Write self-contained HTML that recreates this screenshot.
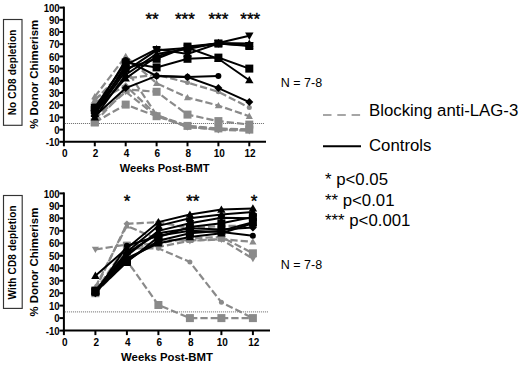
<!DOCTYPE html>
<html><head><meta charset="utf-8"><style>
html,body{margin:0;padding:0;background:#fff;}
body{width:520px;height:365px;overflow:hidden;}
svg{display:block;}
text{font-family:"Liberation Sans", sans-serif;fill:#000;}
.yt{font-size:9.6px;font-weight:bold;}
.xt{font-size:10px;font-weight:bold;}
.at{font-size:11.1px;font-weight:bold;}
.yl{font-size:11.4px;font-weight:bold;}
.bx{font-size:10px;font-weight:bold;letter-spacing:0.15px;}
.st{font-size:17px;font-weight:normal;stroke:#000;stroke-width:0.4px;}
.n{font-size:12.5px;}
.lg{font-size:16.8px;}
</style></head><body>
<svg width="520" height="365" viewBox="0 0 520 365">
<line x1="63.9" y1="6.6" x2="63.9" y2="142.8" stroke="#000" stroke-width="2"/>
<line x1="59.4" y1="141.8" x2="63.9" y2="141.8" stroke="#000" stroke-width="2"/>
<text transform="translate(59.7 141.8) scale(1 1.2)" x="0" y="3.45" text-anchor="end" class="yt">-10</text>
<line x1="59.4" y1="129.6" x2="63.9" y2="129.6" stroke="#000" stroke-width="2"/>
<text transform="translate(59.7 129.6) scale(1 1.2)" x="0" y="3.45" text-anchor="end" class="yt">0</text>
<line x1="59.4" y1="117.4" x2="63.9" y2="117.4" stroke="#000" stroke-width="2"/>
<text transform="translate(59.7 117.4) scale(1 1.2)" x="0" y="3.45" text-anchor="end" class="yt">10</text>
<line x1="59.4" y1="105.2" x2="63.9" y2="105.2" stroke="#000" stroke-width="2"/>
<text transform="translate(59.7 105.2) scale(1 1.2)" x="0" y="3.45" text-anchor="end" class="yt">20</text>
<line x1="59.4" y1="93.0" x2="63.9" y2="93.0" stroke="#000" stroke-width="2"/>
<text transform="translate(59.7 93.0) scale(1 1.2)" x="0" y="3.45" text-anchor="end" class="yt">30</text>
<line x1="59.4" y1="80.8" x2="63.9" y2="80.8" stroke="#000" stroke-width="2"/>
<text transform="translate(59.7 80.8) scale(1 1.2)" x="0" y="3.45" text-anchor="end" class="yt">40</text>
<line x1="59.4" y1="68.6" x2="63.9" y2="68.6" stroke="#000" stroke-width="2"/>
<text transform="translate(59.7 68.6) scale(1 1.2)" x="0" y="3.45" text-anchor="end" class="yt">50</text>
<line x1="59.4" y1="56.4" x2="63.9" y2="56.4" stroke="#000" stroke-width="2"/>
<text transform="translate(59.7 56.4) scale(1 1.2)" x="0" y="3.45" text-anchor="end" class="yt">60</text>
<line x1="59.4" y1="44.2" x2="63.9" y2="44.2" stroke="#000" stroke-width="2"/>
<text transform="translate(59.7 44.2) scale(1 1.2)" x="0" y="3.45" text-anchor="end" class="yt">70</text>
<line x1="59.4" y1="32.0" x2="63.9" y2="32.0" stroke="#000" stroke-width="2"/>
<text transform="translate(59.7 32.0) scale(1 1.2)" x="0" y="3.45" text-anchor="end" class="yt">80</text>
<line x1="59.4" y1="19.8" x2="63.9" y2="19.8" stroke="#000" stroke-width="2"/>
<text transform="translate(59.7 19.8) scale(1 1.2)" x="0" y="3.45" text-anchor="end" class="yt">90</text>
<line x1="59.4" y1="7.6" x2="63.9" y2="7.6" stroke="#000" stroke-width="2"/>
<text transform="translate(59.7 7.6) scale(1 1.2)" x="0" y="3.45" text-anchor="end" class="yt">100</text>
<line x1="62.9" y1="141.8" x2="266.0" y2="141.8" stroke="#000" stroke-width="2"/>
<line x1="63.9" y1="141.8" x2="63.9" y2="146.3" stroke="#000" stroke-width="2"/>
<text x="64.7" y="157.2" text-anchor="middle" class="xt">0</text>
<line x1="94.8" y1="141.8" x2="94.8" y2="146.3" stroke="#000" stroke-width="2"/>
<text x="95.6" y="157.2" text-anchor="middle" class="xt">2</text>
<line x1="125.7" y1="141.8" x2="125.7" y2="146.3" stroke="#000" stroke-width="2"/>
<text x="126.5" y="157.2" text-anchor="middle" class="xt">4</text>
<line x1="156.6" y1="141.8" x2="156.6" y2="146.3" stroke="#000" stroke-width="2"/>
<text x="157.4" y="157.2" text-anchor="middle" class="xt">6</text>
<line x1="187.5" y1="141.8" x2="187.5" y2="146.3" stroke="#000" stroke-width="2"/>
<text x="188.3" y="157.2" text-anchor="middle" class="xt">8</text>
<line x1="218.4" y1="141.8" x2="218.4" y2="146.3" stroke="#000" stroke-width="2"/>
<text x="219.2" y="157.2" text-anchor="middle" class="xt">10</text>
<line x1="249.3" y1="141.8" x2="249.3" y2="146.3" stroke="#000" stroke-width="2"/>
<text x="250.1" y="157.2" text-anchor="middle" class="xt">12</text>
<line x1="64.9" y1="123.5" x2="264.0" y2="123.5" stroke="#666" stroke-width="1" stroke-dasharray="1 1"/>
<g><path d="M94.8 100.3L125.7 68.6L156.6 115.0L187.5 125.9L218.4 129.0L249.3 129.6" fill="none" stroke="#8a8a8a" stroke-width="2.2" stroke-dasharray="7.3 3"/>
<path d="M94.8 102.8L125.7 85.7L156.6 115.0L187.5 127.2L218.4 129.6L249.3 129.6" fill="none" stroke="#8a8a8a" stroke-width="2.2" stroke-dasharray="7.3 3"/>
<path d="M94.8 122.3L125.7 104.6L156.6 116.2L187.5 125.9L218.4 128.4L249.3 129.6" fill="none" stroke="#8a8a8a" stroke-width="2.2" stroke-dasharray="7.3 3"/>
<path d="M94.8 99.1L125.7 78.4L156.6 74.7L187.5 82.6L218.4 91.8L249.3 107.6" fill="none" stroke="#8a8a8a" stroke-width="2.2" stroke-dasharray="7.3 3"/>
<path d="M94.8 96.7L125.7 56.4L156.6 83.2L187.5 97.5L218.4 105.6L249.3 116.2" fill="none" stroke="#8a8a8a" stroke-width="2.2" stroke-dasharray="7.3 3"/>
<path d="M94.8 122.3L125.7 89.3L156.6 91.8L187.5 114.6L218.4 121.1L249.3 124.6" fill="none" stroke="#8a8a8a" stroke-width="2.2" stroke-dasharray="7.3 3"/>
<path d="M94.8 118.6L125.7 91.8L156.6 116.2L187.5 126.7L218.4 129.8L249.3 130.8" fill="none" stroke="#8a8a8a" stroke-width="2.2" stroke-dasharray="7.3 3"/>
<path d="M94.8 96.8L98.4 103.0L91.2 103.0Z" fill="#8a8a8a"/>
<path d="M125.7 65.0L129.3 71.3L122.1 71.3Z" fill="#8a8a8a"/>
<path d="M156.6 111.4L160.2 117.6L153.0 117.6Z" fill="#8a8a8a"/>
<path d="M187.5 122.4L191.1 128.6L183.9 128.6Z" fill="#8a8a8a"/>
<path d="M218.4 125.4L222.0 131.7L214.8 131.7Z" fill="#8a8a8a"/>
<path d="M249.3 126.0L252.9 132.3L245.7 132.3Z" fill="#8a8a8a"/>
<path d="M94.8 99.4L98.2 102.8L94.8 106.2L91.4 102.8Z" fill="#8a8a8a"/>
<path d="M125.7 82.3L129.1 85.7L125.7 89.1L122.3 85.7Z" fill="#8a8a8a"/>
<path d="M156.6 111.6L160.0 115.0L156.6 118.4L153.2 115.0Z" fill="#8a8a8a"/>
<path d="M187.5 123.8L190.9 127.2L187.5 130.6L184.1 127.2Z" fill="#8a8a8a"/>
<path d="M218.4 126.2L221.8 129.6L218.4 133.0L215.0 129.6Z" fill="#8a8a8a"/>
<path d="M249.3 126.2L252.7 129.6L249.3 133.0L245.9 129.6Z" fill="#8a8a8a"/>
<rect x="90.8" y="118.3" width="8.0" height="8.0" fill="#8a8a8a"/>
<rect x="121.7" y="100.6" width="8.0" height="8.0" fill="#8a8a8a"/>
<rect x="152.6" y="112.2" width="8.0" height="8.0" fill="#8a8a8a"/>
<rect x="183.5" y="121.9" width="8.0" height="8.0" fill="#8a8a8a"/>
<rect x="214.4" y="124.4" width="8.0" height="8.0" fill="#8a8a8a"/>
<rect x="245.3" y="125.6" width="8.0" height="8.0" fill="#8a8a8a"/>
<circle cx="94.8" cy="99.1" r="2.5" fill="#8a8a8a"/>
<circle cx="125.7" cy="78.4" r="2.5" fill="#8a8a8a"/>
<circle cx="156.6" cy="74.7" r="2.5" fill="#8a8a8a"/>
<circle cx="187.5" cy="82.6" r="2.5" fill="#8a8a8a"/>
<circle cx="218.4" cy="91.8" r="2.5" fill="#8a8a8a"/>
<circle cx="249.3" cy="107.6" r="2.5" fill="#8a8a8a"/>
<path d="M94.8 93.1L98.4 99.3L91.2 99.3Z" fill="#8a8a8a"/>
<path d="M125.7 52.8L129.3 59.1L122.1 59.1Z" fill="#8a8a8a"/>
<path d="M156.6 79.7L160.2 85.9L153.0 85.9Z" fill="#8a8a8a"/>
<path d="M187.5 93.9L191.1 100.2L183.9 100.2Z" fill="#8a8a8a"/>
<path d="M218.4 102.0L222.0 108.2L214.8 108.2Z" fill="#8a8a8a"/>
<path d="M249.3 112.6L252.9 118.9L245.7 118.9Z" fill="#8a8a8a"/>
<rect x="90.8" y="118.3" width="8.0" height="8.0" fill="#8a8a8a"/>
<rect x="121.7" y="85.3" width="8.0" height="8.0" fill="#8a8a8a"/>
<rect x="152.6" y="87.8" width="8.0" height="8.0" fill="#8a8a8a"/>
<rect x="183.5" y="110.6" width="8.0" height="8.0" fill="#8a8a8a"/>
<rect x="214.4" y="117.1" width="8.0" height="8.0" fill="#8a8a8a"/>
<rect x="245.3" y="120.6" width="8.0" height="8.0" fill="#8a8a8a"/>
<path d="M94.8 122.2L98.4 115.9L91.2 115.9Z" fill="#8a8a8a"/>
<path d="M125.7 95.3L129.3 89.1L122.1 89.1Z" fill="#8a8a8a"/>
<path d="M156.6 119.7L160.2 113.5L153.0 113.5Z" fill="#8a8a8a"/>
<path d="M187.5 130.2L191.1 124.0L183.9 124.0Z" fill="#8a8a8a"/>
<path d="M218.4 133.4L222.0 127.2L214.8 127.2Z" fill="#8a8a8a"/>
<path d="M249.3 134.4L252.9 128.1L245.7 128.1Z" fill="#8a8a8a"/></g>
<g><path d="M94.8 107.6L125.7 62.5L156.6 67.4L187.5 58.8L218.4 57.6L249.3 68.6" fill="none" stroke="#000" stroke-width="2"/>
<path d="M94.8 110.1L125.7 68.6L156.6 58.8L187.5 46.6L218.4 43.6L249.3 46.0" fill="none" stroke="#000" stroke-width="2"/>
<path d="M94.8 111.3L125.7 60.1L156.6 75.9L187.5 77.1L218.4 75.9" fill="none" stroke="#000" stroke-width="2"/>
<path d="M94.8 116.2L125.7 88.1L156.6 75.9L187.5 77.1L218.4 88.1L249.3 102.1" fill="none" stroke="#000" stroke-width="2"/>
<path d="M94.8 112.5L125.7 78.4L156.6 56.4L187.5 47.9L218.4 58.8L249.3 80.2" fill="none" stroke="#000" stroke-width="2"/>
<path d="M94.8 117.4L125.7 74.7L156.6 54.0L187.5 49.1L218.4 43.0L249.3 43.6" fill="none" stroke="#000" stroke-width="2"/>
<path d="M94.8 113.7L125.7 64.9L156.6 49.1L187.5 54.0L218.4 43.6L249.3 45.4" fill="none" stroke="#000" stroke-width="2"/>
<path d="M94.8 113.7L125.7 71.0L156.6 50.3L187.5 47.9L218.4 43.0L249.3 35.7" fill="none" stroke="#000" stroke-width="2"/>
<rect x="90.8" y="103.6" width="8.0" height="8.0" fill="#000"/>
<rect x="121.7" y="58.5" width="8.0" height="8.0" fill="#000"/>
<rect x="152.6" y="63.4" width="8.0" height="8.0" fill="#000"/>
<rect x="183.5" y="54.8" width="8.0" height="8.0" fill="#000"/>
<rect x="214.4" y="53.6" width="8.0" height="8.0" fill="#000"/>
<rect x="245.3" y="64.6" width="8.0" height="8.0" fill="#000"/>
<rect x="90.8" y="106.1" width="8.0" height="8.0" fill="#000"/>
<rect x="121.7" y="64.6" width="8.0" height="8.0" fill="#000"/>
<rect x="152.6" y="54.8" width="8.0" height="8.0" fill="#000"/>
<rect x="183.5" y="42.6" width="8.0" height="8.0" fill="#000"/>
<rect x="214.4" y="39.6" width="8.0" height="8.0" fill="#000"/>
<rect x="245.3" y="42.0" width="8.0" height="8.0" fill="#000"/>
<circle cx="94.8" cy="111.3" r="3.0" fill="#000"/>
<circle cx="125.7" cy="60.1" r="3.0" fill="#000"/>
<circle cx="156.6" cy="75.9" r="3.0" fill="#000"/>
<circle cx="187.5" cy="77.1" r="3.0" fill="#000"/>
<circle cx="218.4" cy="75.9" r="3.0" fill="#000"/>
<path d="M94.8 112.2L98.8 116.2L94.8 120.2L90.8 116.2Z" fill="#000"/>
<path d="M125.7 84.1L129.7 88.1L125.7 92.1L121.7 88.1Z" fill="#000"/>
<path d="M156.6 71.9L160.6 75.9L156.6 79.9L152.6 75.9Z" fill="#000"/>
<path d="M187.5 73.1L191.5 77.1L187.5 81.1L183.5 77.1Z" fill="#000"/>
<path d="M218.4 84.1L222.4 88.1L218.4 92.1L214.4 88.1Z" fill="#000"/>
<path d="M249.3 98.1L253.3 102.1L249.3 106.1L245.3 102.1Z" fill="#000"/>
<path d="M94.8 108.3L99.0 115.7L90.6 115.7Z" fill="#000"/>
<path d="M125.7 74.2L129.9 81.5L121.5 81.5Z" fill="#000"/>
<path d="M156.6 52.2L160.8 59.5L152.4 59.5Z" fill="#000"/>
<path d="M187.5 43.7L191.7 51.0L183.3 51.0Z" fill="#000"/>
<path d="M218.4 54.6L222.6 62.0L214.2 62.0Z" fill="#000"/>
<path d="M249.3 76.0L253.5 83.3L245.1 83.3Z" fill="#000"/>
<path d="M94.8 113.2L99.0 120.5L90.6 120.5Z" fill="#000"/>
<path d="M125.7 70.5L129.9 77.8L121.5 77.8Z" fill="#000"/>
<path d="M156.6 49.8L160.8 57.1L152.4 57.1Z" fill="#000"/>
<path d="M187.5 44.9L191.7 52.2L183.3 52.2Z" fill="#000"/>
<path d="M218.4 38.8L222.6 46.1L214.2 46.1Z" fill="#000"/>
<path d="M249.3 39.4L253.5 46.7L245.1 46.7Z" fill="#000"/>
<path d="M94.8 109.5L99.0 116.9L90.6 116.9Z" fill="#000"/><path d="M94.8 117.9L99.0 110.6L90.6 110.6Z" fill="#000"/>
<path d="M125.7 60.7L129.9 68.1L121.5 68.1Z" fill="#000"/><path d="M125.7 69.1L129.9 61.8L121.5 61.8Z" fill="#000"/>
<path d="M156.6 44.9L160.8 52.2L152.4 52.2Z" fill="#000"/><path d="M156.6 53.3L160.8 45.9L152.4 45.9Z" fill="#000"/>
<path d="M187.5 49.8L191.7 57.1L183.3 57.1Z" fill="#000"/><path d="M187.5 58.2L191.7 50.8L183.3 50.8Z" fill="#000"/>
<path d="M218.4 39.4L222.6 46.7L214.2 46.7Z" fill="#000"/><path d="M218.4 47.8L222.6 40.4L214.2 40.4Z" fill="#000"/>
<path d="M249.3 41.2L253.5 48.6L245.1 48.6Z" fill="#000"/><path d="M249.3 49.6L253.5 42.3L245.1 42.3Z" fill="#000"/>
<path d="M94.8 117.9L99.0 110.6L90.6 110.6Z" fill="#000"/>
<path d="M125.7 75.2L129.9 67.9L121.5 67.9Z" fill="#000"/>
<path d="M156.6 54.5L160.8 47.1L152.4 47.1Z" fill="#000"/>
<path d="M187.5 52.1L191.7 44.7L183.3 44.7Z" fill="#000"/>
<path d="M218.4 47.2L222.6 39.8L214.2 39.8Z" fill="#000"/>
<path d="M249.3 39.9L253.5 32.5L245.1 32.5Z" fill="#000"/></g>
<line x1="63.9" y1="192.4" x2="63.9" y2="331.6" stroke="#000" stroke-width="2"/>
<line x1="59.4" y1="330.6" x2="63.9" y2="330.6" stroke="#000" stroke-width="2"/>
<text transform="translate(59.7 330.6) scale(1 1.2)" x="0" y="3.45" text-anchor="end" class="yt">-10</text>
<line x1="59.4" y1="318.1" x2="63.9" y2="318.1" stroke="#000" stroke-width="2"/>
<text transform="translate(59.7 318.1) scale(1 1.2)" x="0" y="3.45" text-anchor="end" class="yt">0</text>
<line x1="59.4" y1="305.6" x2="63.9" y2="305.6" stroke="#000" stroke-width="2"/>
<text transform="translate(59.7 305.6) scale(1 1.2)" x="0" y="3.45" text-anchor="end" class="yt">10</text>
<line x1="59.4" y1="293.2" x2="63.9" y2="293.2" stroke="#000" stroke-width="2"/>
<text transform="translate(59.7 293.2) scale(1 1.2)" x="0" y="3.45" text-anchor="end" class="yt">20</text>
<line x1="59.4" y1="280.7" x2="63.9" y2="280.7" stroke="#000" stroke-width="2"/>
<text transform="translate(59.7 280.7) scale(1 1.2)" x="0" y="3.45" text-anchor="end" class="yt">30</text>
<line x1="59.4" y1="268.2" x2="63.9" y2="268.2" stroke="#000" stroke-width="2"/>
<text transform="translate(59.7 268.2) scale(1 1.2)" x="0" y="3.45" text-anchor="end" class="yt">40</text>
<line x1="59.4" y1="255.8" x2="63.9" y2="255.8" stroke="#000" stroke-width="2"/>
<text transform="translate(59.7 255.8) scale(1 1.2)" x="0" y="3.45" text-anchor="end" class="yt">50</text>
<line x1="59.4" y1="243.3" x2="63.9" y2="243.3" stroke="#000" stroke-width="2"/>
<text transform="translate(59.7 243.3) scale(1 1.2)" x="0" y="3.45" text-anchor="end" class="yt">60</text>
<line x1="59.4" y1="230.8" x2="63.9" y2="230.8" stroke="#000" stroke-width="2"/>
<text transform="translate(59.7 230.8) scale(1 1.2)" x="0" y="3.45" text-anchor="end" class="yt">70</text>
<line x1="59.4" y1="218.3" x2="63.9" y2="218.3" stroke="#000" stroke-width="2"/>
<text transform="translate(59.7 218.3) scale(1 1.2)" x="0" y="3.45" text-anchor="end" class="yt">80</text>
<line x1="59.4" y1="205.9" x2="63.9" y2="205.9" stroke="#000" stroke-width="2"/>
<text transform="translate(59.7 205.9) scale(1 1.2)" x="0" y="3.45" text-anchor="end" class="yt">90</text>
<line x1="59.4" y1="193.4" x2="63.9" y2="193.4" stroke="#000" stroke-width="2"/>
<text transform="translate(59.7 193.4) scale(1 1.2)" x="0" y="3.45" text-anchor="end" class="yt">100</text>
<line x1="62.9" y1="330.6" x2="270.0" y2="330.6" stroke="#000" stroke-width="2"/>
<line x1="63.9" y1="330.6" x2="63.9" y2="335.1" stroke="#000" stroke-width="2"/>
<text x="64.7" y="346.0" text-anchor="middle" class="xt">0</text>
<line x1="95.4" y1="330.6" x2="95.4" y2="335.1" stroke="#000" stroke-width="2"/>
<text x="96.2" y="346.0" text-anchor="middle" class="xt">2</text>
<line x1="126.9" y1="330.6" x2="126.9" y2="335.1" stroke="#000" stroke-width="2"/>
<text x="127.7" y="346.0" text-anchor="middle" class="xt">4</text>
<line x1="158.4" y1="330.6" x2="158.4" y2="335.1" stroke="#000" stroke-width="2"/>
<text x="159.2" y="346.0" text-anchor="middle" class="xt">6</text>
<line x1="189.9" y1="330.6" x2="189.9" y2="335.1" stroke="#000" stroke-width="2"/>
<text x="190.7" y="346.0" text-anchor="middle" class="xt">8</text>
<line x1="221.4" y1="330.6" x2="221.4" y2="335.1" stroke="#000" stroke-width="2"/>
<text x="222.2" y="346.0" text-anchor="middle" class="xt">10</text>
<line x1="252.9" y1="330.6" x2="252.9" y2="335.1" stroke="#000" stroke-width="2"/>
<text x="253.7" y="346.0" text-anchor="middle" class="xt">12</text>
<line x1="64.9" y1="311.9" x2="268.0" y2="311.9" stroke="#666" stroke-width="1" stroke-dasharray="1 1"/>
<g><path d="M95.4 249.5L126.9 244.5L158.4 247.0L189.9 240.8L221.4 239.5L252.9 258.7" fill="none" stroke="#8a8a8a" stroke-width="2.2" stroke-dasharray="7.3 3"/>
<path d="M95.4 289.4L126.9 223.8L158.4 222.1L189.9 228.3L221.4 225.8L252.9 225.8" fill="none" stroke="#8a8a8a" stroke-width="2.2" stroke-dasharray="7.3 3"/>
<path d="M95.4 293.2L126.9 260.7L158.4 305.0L189.9 318.1L221.4 318.1L252.9 318.1" fill="none" stroke="#8a8a8a" stroke-width="2.2" stroke-dasharray="7.3 3"/>
<path d="M95.4 290.7L126.9 248.3L158.4 248.3L189.9 262.0L221.4 302.3L252.9 318.1" fill="none" stroke="#8a8a8a" stroke-width="2.2" stroke-dasharray="7.3 3"/>
<path d="M95.4 286.9L126.9 225.8L158.4 239.5L189.9 240.4L221.4 239.2L252.9 241.8" fill="none" stroke="#8a8a8a" stroke-width="2.2" stroke-dasharray="7.3 3"/>
<path d="M95.4 290.7L126.9 245.8L158.4 243.3L189.9 238.3L221.4 237.0L252.9 253.3" fill="none" stroke="#8a8a8a" stroke-width="2.2" stroke-dasharray="7.3 3"/>
<path d="M95.4 253.1L99.0 246.8L91.8 246.8Z" fill="#8a8a8a"/>
<path d="M126.9 248.1L130.5 241.8L123.3 241.8Z" fill="#8a8a8a"/>
<path d="M158.4 250.6L162.0 244.3L154.8 244.3Z" fill="#8a8a8a"/>
<path d="M189.9 244.4L193.5 238.1L186.3 238.1Z" fill="#8a8a8a"/>
<path d="M221.4 243.1L225.0 236.9L217.8 236.9Z" fill="#8a8a8a"/>
<path d="M252.9 262.3L256.5 256.1L249.3 256.1Z" fill="#8a8a8a"/>
<path d="M95.4 286.0L98.8 289.4L95.4 292.8L92.0 289.4Z" fill="#8a8a8a"/>
<path d="M126.9 220.4L130.3 223.8L126.9 227.2L123.5 223.8Z" fill="#8a8a8a"/>
<path d="M158.4 218.7L161.8 222.1L158.4 225.5L155.0 222.1Z" fill="#8a8a8a"/>
<path d="M189.9 224.9L193.3 228.3L189.9 231.7L186.5 228.3Z" fill="#8a8a8a"/>
<path d="M221.4 222.4L224.8 225.8L221.4 229.2L218.0 225.8Z" fill="#8a8a8a"/>
<path d="M252.9 222.4L256.3 225.8L252.9 229.2L249.5 225.8Z" fill="#8a8a8a"/>
<rect x="91.4" y="289.2" width="8.0" height="8.0" fill="#8a8a8a"/>
<rect x="122.9" y="256.7" width="8.0" height="8.0" fill="#8a8a8a"/>
<rect x="154.4" y="301.0" width="8.0" height="8.0" fill="#8a8a8a"/>
<rect x="185.9" y="314.1" width="8.0" height="8.0" fill="#8a8a8a"/>
<rect x="217.4" y="314.1" width="8.0" height="8.0" fill="#8a8a8a"/>
<rect x="248.9" y="314.1" width="8.0" height="8.0" fill="#8a8a8a"/>
<circle cx="95.4" cy="290.7" r="2.5" fill="#8a8a8a"/>
<circle cx="126.9" cy="248.3" r="2.5" fill="#8a8a8a"/>
<circle cx="158.4" cy="248.3" r="2.5" fill="#8a8a8a"/>
<circle cx="189.9" cy="262.0" r="2.5" fill="#8a8a8a"/>
<circle cx="221.4" cy="302.3" r="2.5" fill="#8a8a8a"/>
<circle cx="252.9" cy="318.1" r="2.5" fill="#8a8a8a"/>
<path d="M95.4 283.4L99.0 289.6L91.8 289.6Z" fill="#8a8a8a"/>
<path d="M126.9 222.3L130.5 228.5L123.3 228.5Z" fill="#8a8a8a"/>
<path d="M158.4 236.0L162.0 242.2L154.8 242.2Z" fill="#8a8a8a"/>
<path d="M189.9 236.8L193.5 243.1L186.3 243.1Z" fill="#8a8a8a"/>
<path d="M221.4 235.6L225.0 241.8L217.8 241.8Z" fill="#8a8a8a"/>
<path d="M252.9 238.2L256.5 244.5L249.3 244.5Z" fill="#8a8a8a"/>
<rect x="91.4" y="286.7" width="8.0" height="8.0" fill="#8a8a8a"/>
<rect x="122.9" y="241.8" width="8.0" height="8.0" fill="#8a8a8a"/>
<rect x="154.4" y="239.3" width="8.0" height="8.0" fill="#8a8a8a"/>
<rect x="185.9" y="234.3" width="8.0" height="8.0" fill="#8a8a8a"/>
<rect x="217.4" y="233.0" width="8.0" height="8.0" fill="#8a8a8a"/>
<rect x="248.9" y="249.3" width="8.0" height="8.0" fill="#8a8a8a"/></g>
<g><path d="M95.4 275.7L126.9 248.3L158.4 222.1L189.9 214.6L221.4 209.6L252.9 208.4" fill="none" stroke="#000" stroke-width="2"/>
<path d="M95.4 290.7L126.9 252.0L158.4 225.8L189.9 218.3L221.4 214.6L252.9 212.1" fill="none" stroke="#000" stroke-width="2"/>
<path d="M95.4 291.9L126.9 262.0L158.4 237.0L189.9 227.1L221.4 223.3L252.9 217.1" fill="none" stroke="#000" stroke-width="2"/>
<path d="M95.4 291.9L126.9 255.8L158.4 230.8L189.9 223.3L221.4 217.7L252.9 218.3" fill="none" stroke="#000" stroke-width="2"/>
<path d="M95.4 293.2L126.9 253.3L158.4 233.3L189.9 228.3L221.4 229.6L252.9 227.6" fill="none" stroke="#000" stroke-width="2"/>
<path d="M95.4 293.2L126.9 245.8L158.4 235.8L189.9 230.8L221.4 232.1L252.9 235.8" fill="none" stroke="#000" stroke-width="2"/>
<path d="M95.4 290.7L126.9 260.7L158.4 240.8L189.9 233.3L221.4 230.8L252.9 222.1" fill="none" stroke="#000" stroke-width="2"/>
<path d="M95.4 291.9L126.9 258.2L158.4 243.3L189.9 237.0L221.4 233.3L252.9 223.3" fill="none" stroke="#000" stroke-width="2"/>
<path d="M95.4 271.5L99.6 278.9L91.2 278.9Z" fill="#000"/>
<path d="M126.9 244.1L131.1 251.4L122.7 251.4Z" fill="#000"/>
<path d="M158.4 217.9L162.6 225.2L154.2 225.2Z" fill="#000"/>
<path d="M189.9 210.4L194.1 217.7L185.7 217.7Z" fill="#000"/>
<path d="M221.4 205.4L225.6 212.8L217.2 212.8Z" fill="#000"/>
<path d="M252.9 204.2L257.1 211.5L248.7 211.5Z" fill="#000"/>
<path d="M95.4 286.5L99.6 293.8L91.2 293.8Z" fill="#000"/>
<path d="M126.9 247.8L131.1 255.2L122.7 255.2Z" fill="#000"/>
<path d="M158.4 221.6L162.6 229.0L154.2 229.0Z" fill="#000"/>
<path d="M189.9 214.1L194.1 221.5L185.7 221.5Z" fill="#000"/>
<path d="M221.4 210.4L225.6 217.7L217.2 217.7Z" fill="#000"/>
<path d="M252.9 207.9L257.1 215.3L248.7 215.3Z" fill="#000"/>
<rect x="91.4" y="287.9" width="8.0" height="8.0" fill="#000"/>
<rect x="122.9" y="258.0" width="8.0" height="8.0" fill="#000"/>
<rect x="154.4" y="233.0" width="8.0" height="8.0" fill="#000"/>
<rect x="185.9" y="223.1" width="8.0" height="8.0" fill="#000"/>
<rect x="217.4" y="219.3" width="8.0" height="8.0" fill="#000"/>
<rect x="248.9" y="213.1" width="8.0" height="8.0" fill="#000"/>
<path d="M95.4 296.1L99.6 288.8L91.2 288.8Z" fill="#000"/>
<path d="M126.9 259.9L131.1 252.6L122.7 252.6Z" fill="#000"/>
<path d="M158.4 235.0L162.6 227.7L154.2 227.7Z" fill="#000"/>
<path d="M189.9 227.5L194.1 220.2L185.7 220.2Z" fill="#000"/>
<path d="M221.4 221.9L225.6 214.6L217.2 214.6Z" fill="#000"/>
<path d="M252.9 222.5L257.1 215.2L248.7 215.2Z" fill="#000"/>
<path d="M95.4 289.2L99.4 293.2L95.4 297.2L91.4 293.2Z" fill="#000"/>
<path d="M126.9 249.3L130.9 253.3L126.9 257.3L122.9 253.3Z" fill="#000"/>
<path d="M158.4 229.3L162.4 233.3L158.4 237.3L154.4 233.3Z" fill="#000"/>
<path d="M189.9 224.3L193.9 228.3L189.9 232.3L185.9 228.3Z" fill="#000"/>
<path d="M221.4 225.6L225.4 229.6L221.4 233.6L217.4 229.6Z" fill="#000"/>
<path d="M252.9 223.6L256.9 227.6L252.9 231.6L248.9 227.6Z" fill="#000"/>
<circle cx="95.4" cy="293.2" r="3.0" fill="#000"/>
<circle cx="126.9" cy="245.8" r="3.0" fill="#000"/>
<circle cx="158.4" cy="235.8" r="3.0" fill="#000"/>
<circle cx="189.9" cy="230.8" r="3.0" fill="#000"/>
<circle cx="221.4" cy="232.1" r="3.0" fill="#000"/>
<circle cx="252.9" cy="235.8" r="3.0" fill="#000"/>
<rect x="91.4" y="286.7" width="8.0" height="8.0" fill="#000"/>
<rect x="122.9" y="256.7" width="8.0" height="8.0" fill="#000"/>
<rect x="154.4" y="236.8" width="8.0" height="8.0" fill="#000"/>
<rect x="185.9" y="229.3" width="8.0" height="8.0" fill="#000"/>
<rect x="217.4" y="226.8" width="8.0" height="8.0" fill="#000"/>
<rect x="248.9" y="218.1" width="8.0" height="8.0" fill="#000"/>
<path d="M95.4 287.7L99.6 295.1L91.2 295.1Z" fill="#000"/>
<path d="M126.9 254.0L131.1 261.4L122.7 261.4Z" fill="#000"/>
<path d="M158.4 239.1L162.6 246.4L154.2 246.4Z" fill="#000"/>
<path d="M189.9 232.8L194.1 240.2L185.7 240.2Z" fill="#000"/>
<path d="M221.4 229.1L225.6 236.5L217.2 236.5Z" fill="#000"/>
<path d="M252.9 219.1L257.1 226.5L248.7 226.5Z" fill="#000"/></g>
<text x="164.6" y="171.6" text-anchor="middle" class="at">Weeks Post-BMT</text>
<text x="167" y="361.3" text-anchor="middle" class="at" style="font-size:11.35px">Weeks Post-BMT</text>
<text transform="translate(38.2 74.3) rotate(-90)" text-anchor="middle" class="yl">% Donor Chimerism</text>
<text transform="translate(38.2 262.1) rotate(-90)" text-anchor="middle" class="yl">% Donor Chimerism</text>
<rect x="3.5" y="19.5" width="18.5" height="105.8" fill="none" stroke="#333" stroke-width="1.15"/>
<text transform="translate(16.3 72.4) rotate(-90)" text-anchor="middle" class="bx">No CD8 depletion</text>
<rect x="3.5" y="195.5" width="18.7" height="112.9" fill="none" stroke="#333" stroke-width="1.15"/>
<text transform="translate(16.3 252.4) rotate(-90)" text-anchor="middle" class="bx">With CD8 depletion</text>
<text x="152" y="24.5" text-anchor="middle" class="st">**</text>
<text x="184.9" y="24.5" text-anchor="middle" class="st">***</text>
<text x="218.4" y="24.5" text-anchor="middle" class="st">***</text>
<text x="250.2" y="24.5" text-anchor="middle" class="st">***</text>
<text x="127" y="207.2" text-anchor="middle" class="st">*</text>
<text x="192.8" y="207.2" text-anchor="middle" class="st">**</text>
<text x="254" y="207.2" text-anchor="middle" class="st">*</text>
<text x="280.8" y="87" class="n">N = 7-8</text>
<text x="280.8" y="269.4" class="n">N = 7-8</text>
<line x1="323" y1="114.9" x2="361" y2="114.9" stroke="#a6a6a6" stroke-width="2" stroke-dasharray="8.5 5.8"/>
<line x1="323" y1="146.2" x2="361" y2="146.2" stroke="#000" stroke-width="2"/>
<text x="369" y="115.8" class="lg">Blocking anti-LAG-3</text>
<text x="369" y="151" class="lg">Controls</text>
<text x="325" y="185.2" class="lg">* p&lt;0.05</text>
<text x="325" y="205.8" class="lg">** p&lt;0.01</text>
<text x="325" y="225.8" class="lg">*** p&lt;0.001</text>
</svg>
</body></html>
